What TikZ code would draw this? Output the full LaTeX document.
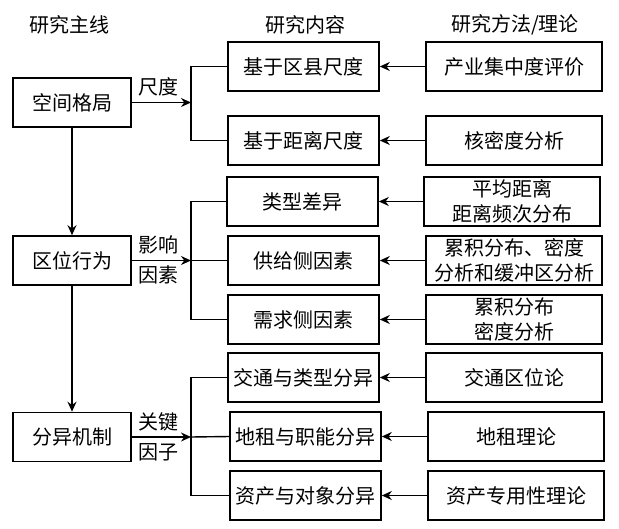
\documentclass[tikz,border=0pt]{standalone}
\usepackage{fontspec}
\setmainfont{Noto Sans CJK SC}
\usetikzlibrary{arrows.meta,positioning}
\tikzset{
  font={\fontsize{20pt}{25pt}\selectfont}}

\begin{document}
\begin{tikzpicture}[x=1pt,y=-1pt,
    block_main/.style ={rectangle, draw=black, line width=1.6pt, fill=white,
      minimum width=118pt, minimum height=49pt, inner sep=0pt},
    block_center/.style ={rectangle, draw=black, line width=1.6pt, fill=white,
      minimum width=151pt, minimum height=49pt, inner sep=0pt},
    block_method/.style ={rectangle, draw=black, line width=1.6pt, fill=white,
      minimum width=176pt, minimum height=49pt, inner sep=0pt, align=center},
    block_clear/.style ={rectangle, draw=none, inner sep=0pt},
    line/.style ={draw, line width=1.4pt},
    paths2/.style={draw, line width=1.4pt, arrows={-Stealth[length=10pt, width=9pt]}}]
    \useasboundingbox (0,0) rectangle (619,528);
    % column headings
    \node[block_clear] (headmain) at (70,25) {研究主线};
    \node[block_clear] (headcont) at (305,25) {研究内容};
    \node[block_clear] (headmeth) at (515,25) {研究方法/理论};
    % main line
    \node[block_main] (pattern) at (72,102.5) {空间格局};
    \node[block_main] (behav) at (72,260.5) {区位行为};
    \node[block_main] (mech) at (72,437) {分异机制};
    % research content
    \node[block_center] (county) at (303.5,66.5) {基于区县尺度};
    \node[block_center] (dist) at (303.5,140.5) {基于距离尺度};
    \node[block_center] (typediff) at (302.5,201.5) {类型差异};
    \node[block_center] (supply) at (303.5,260.5) {供给侧因素};
    \node[block_center] (demand) at (303.5,319.5) {需求侧因素};
    \node[block_center] (traffic) at (303.5,377.5) {交通与类型分异};
    \node[block_center] (rent) at (305.5,436.5) {地租与职能分异};
    \node[block_center] (asset) at (305.5,495.5) {资产与对象分异};
    % research methods
    \node[block_method] (concen) at (514,66.5) {产业集中度评价};
    \node[block_method] (kernel) at (514,140.5) {核密度分析};
    \node[block_method] (avgdist) at (512,201.5) {平均距离\\距离频次分布};
    \node[block_method] (cumbuf) at (514,260.5) {累积分布、密度\\分析和缓冲区分析};
    \node[block_method] (cumden) at (514,319.5) {累积分布\\密度分析};
    \node[block_method] (trafloc) at (514,377.5) {交通区位论};
    \node[block_method] (renttheo) at (516,436.5) {地租理论};
    \node[block_method] (assettheo) at (516,495.5) {资产专用性理论};
    % labels on the arrows
    \node[block_clear] (lscale) at (158,87) {尺度};
    \node[block_clear] (linfl1) at (158,245) {影响};
    \node[block_clear] (linfl2) at (158,275) {因素};
    \node[block_clear] (lkey1) at (158,422) {关键};
    \node[block_clear] (lkey2) at (158,452) {因子};
    % bracket joints
    \coordinate (br1) at (191,102.5);
    \coordinate (br2) at (191,260.5);
    \coordinate (br3) at (191,437);
    % connecting nodes with paths
    \begin{scope}[every path/.style=paths2]
      \path(pattern)--(behav);
      \path(behav)--(mech);
      \path(pattern.east)--(br1);
      \path(behav.east)--(br2);
      \path(mech.east)--(br3);
      \path(concen)--(county);
      \path(kernel)--(dist);
      \path(avgdist)--(typediff);
      \path(cumbuf)--(supply);
      \path(cumden)--(demand);
      \path(trafloc)--(traffic);
      \path(renttheo)--(rent);
      \path(assettheo)--(asset);
    \end{scope}
    \begin{scope}[every path/.style=line]
      \path(county.west)-|(br1)|-(dist.west);
      \path(typediff.west)-|(br2)|-(demand.west);
      \path(supply.west)--(br2);
      \path(traffic.west)-|(br3)|-(asset.west);
      \path(rent.west)--(br3);
    \end{scope}
  \end{tikzpicture}
\end{document}
